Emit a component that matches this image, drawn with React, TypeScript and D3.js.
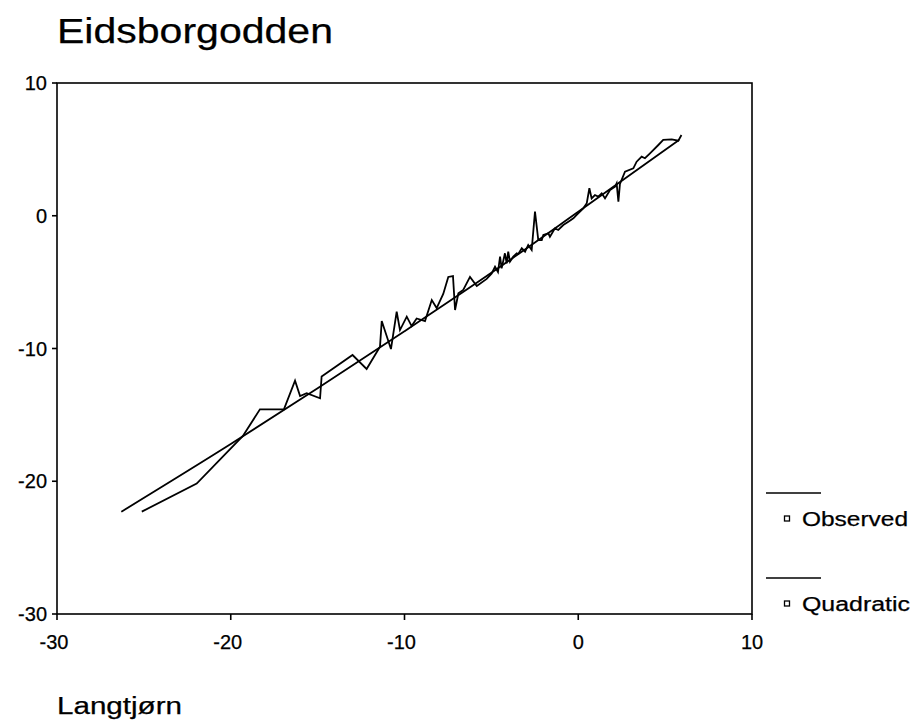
import React from "react";
import * as d3 from "d3";

const chartTitle = "Eidsborgodden";
const nextTitle = "Langtjørn";
const xTicks = [-30, -20, -10, 0, 10];
const yTicks = [10, 0, -10, -20, -30];
const seriesNames = ["Observed", "Quadratic"];

const observedX = [
  -25.12, -21.96, -19.3, -18.32, -16.94, -16.3, -16.01, -15.63, -14.86, -14.77,
  -12.99, -12.18, -11.41, -11.31, -10.78, -10.45, -10.26, -9.87, -9.59, -9.3,
  -8.82, -8.43, -8.15, -7.77, -7.48, -7.21, -7.09, -6.9, -6.62, -6.23,
  -5.84, -5.27, -4.98, -4.79, -4.62, -4.5, -4.41, -4.22, -4.12, -4.03,
  -3.93, -3.74, -3.54, -3.45, -3.25, -3.06, -2.88, -2.68, -2.49, -2.3,
  -2.1, -2.01, -1.72, -1.63, -1.34, -1.15, -0.86, -0.57, -0.28, -0.09,
  0.1, 0.29, 0.49, 0.64, 0.77, 0.96, 1.15, 1.35, 1.54, 1.83,
  2.12, 2.21, 2.31, 2.4, 2.69, 3.17, 3.36, 3.65, 3.84, 4.13,
  4.61, 4.89, 5.38, 5.76, 5.94,
];
const observedY = [
  -22.29, -20.17, -16.59, -14.58, -14.58, -12.43, -13.58, -13.37, -13.75, -12.11,
  -10.49, -11.54, -9.86, -7.93, -10.04, -7.23, -8.61, -7.6, -8.31, -7.74,
  -7.93, -6.35, -6.95, -5.89, -4.61, -4.54, -7.1, -5.84, -5.59, -4.61,
  -5.29, -4.76, -4.34, -3.84, -4.24, -3.08, -3.96, -2.83, -3.58, -2.71,
  -3.46, -3.08, -2.83, -2.88, -2.45, -2.71, -2.2, -2.58, 0.31, -1.83,
  -1.83, -1.45, -1.32, -1.58, -0.95, -1.07, -0.7, -0.45, -0.19, 0.06,
  0.31, 0.56, 0.94, 2.07, 1.31, 1.56, 1.44, 1.69, 1.31, 1.94,
  2.19, 2.44, 1.06, 2.39, 3.32, 3.57, 4.07, 4.45, 4.33, 4.7,
  5.33, 5.71, 5.76, 5.65, 6.08,
];
const quadraticX = [-26.3, -20, -15, -10, -5, 0, 5.8];
const quadraticY = [-22.3, -17.2, -13.0, -8.7, -4.3, 0.3, 5.7];

const FONT = "'Liberation Sans', Arial, Helvetica, sans-serif";

export default function App() {
  const W = 915;
  const H = 722;
  const L = 57, R = 752, T = 83, B = 614;

  const x = d3.scaleLinear().domain([-30, 10]).range([L, R]);
  const y = d3.scaleLinear().domain([-30, 10]).range([B, T]);

  const obsPts: [number, number][] = observedX
    .slice(0, Math.min(observedX.length, observedY.length))
    .map((v, i) => [v, observedY[i]]);
  const quadPts: [number, number][] = quadraticX.map((v, i) => [v, quadraticY[i]]);

  const obsLine = d3
    .line<[number, number]>()
    .x((d) => x(d[0]))
    .y((d) => y(d[1]));
  const quadLine = d3
    .line<[number, number]>()
    .x((d) => x(d[0]))
    .y((d) => y(d[1]))
    .curve(d3.curveMonotoneX);

  const legendY = [493, 578];
  const textStroke = { stroke: "#000", strokeWidth: 0.25 };

  return (
    <svg
      width={W}
      height={H}
      style={{ position: "absolute", left: 0, top: 0, background: "#fff" }}
      fontFamily={FONT}
    >
      <rect x={0} y={0} width={W} height={H} fill="#fff" />
      <text x={57} y={43} fontSize={35} textLength={276} lengthAdjust="spacingAndGlyphs" fill="#000" {...textStroke}>
        {chartTitle}
      </text>

      {/* frame */}
      <rect x={L} y={T} width={R - L} height={B - T} fill="none" stroke="#000" strokeWidth={1.6} />

      {/* y ticks */}
      {yTicks.map((t) => (
        <g key={"y" + t}>
          <line x1={L - 5} x2={L} y1={y(t)} y2={y(t)} stroke="#000" strokeWidth={1.6} />
          <text x={47} y={y(t) + 7} fontSize={20} textAnchor="end" fill="#000" {...textStroke}>
            {t}
          </text>
        </g>
      ))}

      {/* x ticks */}
      {xTicks.map((t) => (
        <g key={"x" + t}>
          <line x1={x(t)} x2={x(t)} y1={B} y2={B + 6} stroke="#000" strokeWidth={1.6} />
          <text x={x(t) - (t < 0 ? 3 : 0)} y={649} fontSize={20} textAnchor="middle" fill="#000" {...textStroke}>
            {t}
          </text>
        </g>
      ))}

      {/* series */}
      <path d={quadLine(quadPts) || ""} fill="none" stroke="#000" strokeWidth={1.8} />
      <path d={obsLine(obsPts) || ""} fill="none" stroke="#000" strokeWidth={1.8} strokeLinejoin="miter" />

      {/* legend */}
      {seriesNames.map((name, i) => (
        <g key={name}>
          <line x1={766} x2={821} y1={legendY[i]} y2={legendY[i]} stroke="#000" strokeWidth={1.4} />
          <rect x={784.5} y={legendY[i] + 23} width={5} height={5} fill="#fff" stroke="#000" strokeWidth={1.3} />
          <text
            x={802}
            y={legendY[i] + 33}
            fontSize={20}
            fill="#000"
            textLength={name === "Observed" ? 106 : 108}
            lengthAdjust="spacingAndGlyphs"
            {...textStroke}
          >
            {name}
          </text>
        </g>
      ))}

      <text x={57} y={714} fontSize={23} textLength={125} lengthAdjust="spacingAndGlyphs" fill="#000" {...textStroke}>
        {nextTitle}
      </text>
    </svg>
  );
}
